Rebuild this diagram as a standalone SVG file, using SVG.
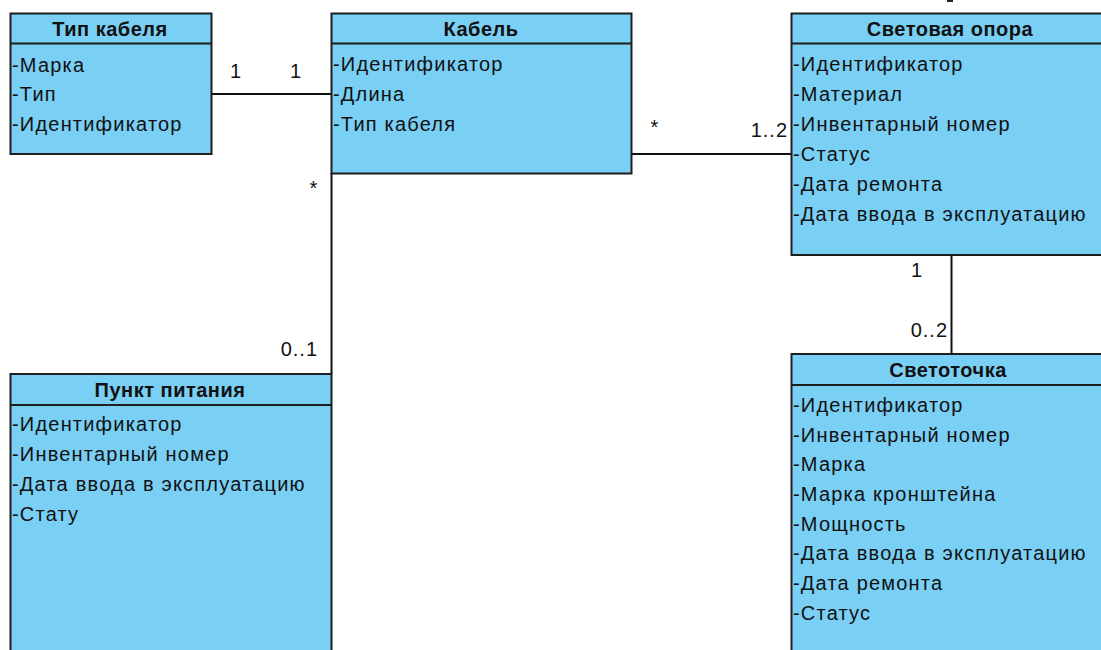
<svg xmlns="http://www.w3.org/2000/svg" width="1101" height="650" viewBox="0 0 1101 650">
  <style>
    .box { fill: #7acff5; stroke: #1e1e1e; stroke-width: 2; }
    .div { stroke: #1e1e1e; stroke-width: 2; }
    .title { font-family: "Liberation Sans", Arial, sans-serif; font-size: 20px; font-weight: bold; letter-spacing: 0.5px; fill: #111; text-anchor: middle; }
    .attr { font-family: "Liberation Sans", Arial, sans-serif; font-size: 20px; letter-spacing: 1.2px; fill: #111; }
    .mult { font-family: "Liberation Sans", Arial, sans-serif; font-size: 20px; letter-spacing: 1px; fill: #111; }
    .end { text-anchor: end; }
    .mid { text-anchor: middle; }
    .conn { stroke: #111; stroke-width: 2; fill: none; }
  </style>
  <rect width="1101" height="650" fill="#ffffff"/>

  <!-- associations -->
  <g id="connectors">
    <line class="conn" x1="211" y1="94" x2="331" y2="94"/>
    <line class="conn" x1="632" y1="154" x2="791" y2="154"/>
    <line class="conn" x1="331.5" y1="173" x2="331.5" y2="374"/>
    <line class="conn" x1="951.5" y1="255" x2="951.5" y2="354"/>
    <text class="mult mid" x="236" y="78">1</text>
    <text class="mult mid" x="296" y="78">1</text>
    <text class="mult mid" x="314" y="195">*</text>
    <text class="mult end" x="318" y="356">0..1</text>
    <text class="mult mid" x="655" y="134">*</text>
    <text class="mult end" x="788" y="137">1..2</text>
    <text class="mult mid" x="917" y="277">1</text>
    <text class="mult end" x="948" y="337">0..2</text>
  </g>

  <!-- small mark at the top edge -->
  <rect x="947" y="0" width="6" height="2" fill="#222"/>

  <g id="tip-kabelya">
    <rect class="box" x="10.5" y="13.5" width="201" height="140.5"/>
    <line class="div" x1="10.5" y1="43.5" x2="211.5" y2="43.5"/>
    <text class="title" x="110" y="36">Тип кабеля</text>
    <text class="attr" x="12" y="72">-Марка</text>
    <text class="attr" x="12" y="101">-Тип</text>
    <text class="attr" x="12" y="131">-Идентификатор</text>
  </g>

  <g id="kabel">
    <rect class="box" x="331.5" y="13.5" width="300" height="160"/>
    <line class="div" x1="331.5" y1="43.5" x2="631.5" y2="43.5"/>
    <text class="title" x="481" y="36">Кабель</text>
    <text class="attr" x="333" y="71">-Идентификатор</text>
    <text class="attr" x="333" y="101">-Длина</text>
    <text class="attr" x="333" y="131">-Тип кабеля</text>
  </g>

  <g id="svetovaya-opora">
    <rect class="box" x="791.5" y="13.5" width="330" height="241.5"/>
    <line class="div" x1="791.5" y1="43.5" x2="1121.5" y2="43.5"/>
    <text class="title" x="950" y="36">Световая опора</text>
    <text class="attr" x="793" y="71">-Идентификатор</text>
    <text class="attr" x="793" y="101">-Материал</text>
    <text class="attr" x="793" y="131">-Инвентарный номер</text>
    <text class="attr" x="793" y="161">-Статус</text>
    <text class="attr" x="793" y="191">-Дата ремонта</text>
    <text class="attr" x="793" y="221">-Дата ввода в эксплуатацию</text>
  </g>

  <g id="punkt-pitaniya">
    <rect class="box" x="10.5" y="374" width="321" height="300"/>
    <line class="div" x1="10.5" y1="405" x2="331.5" y2="405"/>
    <text class="title" x="170" y="397">Пункт питания</text>
    <text class="attr" x="12" y="431">-Идентификатор</text>
    <text class="attr" x="12" y="461">-Инвентарный номер</text>
    <text class="attr" x="12" y="491">-Дата ввода в эксплуатацию</text>
    <text class="attr" x="12" y="521">-Стату</text>
  </g>

  <g id="svetotochka">
    <rect class="box" x="791.5" y="354" width="330" height="320"/>
    <line class="div" x1="791.5" y1="385" x2="1121.5" y2="385"/>
    <text class="title" x="948" y="377">Светоточка</text>
    <text class="attr" x="793" y="412">-Идентификатор</text>
    <text class="attr" x="793" y="442">-Инвентарный номер</text>
    <text class="attr" x="793" y="471">-Марка</text>
    <text class="attr" x="793" y="501">-Марка кронштейна</text>
    <text class="attr" x="793" y="531">-Мощность</text>
    <text class="attr" x="793" y="560">-Дата ввода в эксплуатацию</text>
    <text class="attr" x="793" y="590">-Дата ремонта</text>
    <text class="attr" x="793" y="620">-Статус</text>
  </g>
</svg>
